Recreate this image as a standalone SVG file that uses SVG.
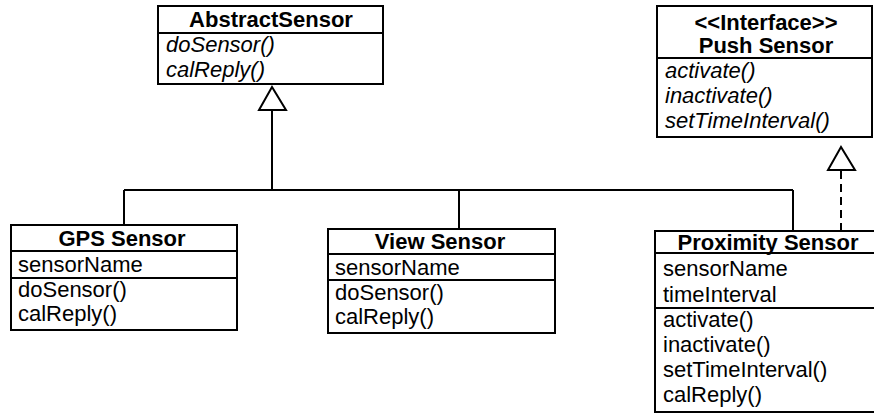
<svg xmlns="http://www.w3.org/2000/svg" width="874" height="414" viewBox="0 0 874 414">
<style>
.box{fill:#fff;stroke:#000;stroke-width:2}
.sep{stroke:#000;stroke-width:2}
.t{font-family:"Liberation Sans",Arial,Helvetica,sans-serif;font-size:22px;fill:#000}
.b{font-weight:bold;text-anchor:middle}
.i{font-style:italic}
.ln{fill:none;stroke:#000;stroke-width:2}
.tri{fill:#fff;stroke:#000;stroke-width:2;stroke-linejoin:miter}
.dash{stroke-dasharray:8 5}
</style>
<rect width="874" height="414" fill="#fff"/>
<g id="connectors">
  <path class="ln" d="M272 110 V190 M124 190 H793 M124 190 V225 M459 190 V229 M793 190 V231"/>
  <polygon class="tri" points="272,87 259,110 286,110"/>
  <path class="ln dash" d="M841 171 V231"/>
  <polygon class="tri" points="841,147 828,170 855,170"/>
</g>
<g id="AbstractSensor">
  <rect class="box" x="158" y="6" width="225" height="78"/>
  <line class="sep" x1="158" y1="33" x2="383" y2="33"/>
  <text class="t b" x="271" y="27">AbstractSensor</text>
  <text class="t i" x="166" y="52">doSensor()</text>
  <text class="t i" x="166" y="77">calReply()</text>
</g>
<g id="PushSensor">
  <rect class="box" x="657" y="6" width="215" height="131"/>
  <line class="sep" x1="657" y1="58" x2="872" y2="58"/>
  <text class="t b" x="766" y="30">&lt;&lt;Interface&gt;&gt;</text>
  <text class="t b" x="766" y="53">Push Sensor</text>
  <text class="t i" x="665" y="78">activate()</text>
  <text class="t i" x="665" y="103">inactivate()</text>
  <text class="t i" x="665" y="128">setTimeInterval()</text>
</g>
<g id="GPSSensor">
  <rect class="box" x="11" y="225" width="226" height="105"/>
  <line class="sep" x1="11" y1="251" x2="237" y2="251"/>
  <line class="sep" x1="11" y1="278" x2="237" y2="278"/>
  <text class="t b" x="122" y="246">GPS Sensor</text>
  <text class="t" x="18" y="272">sensorName</text>
  <text class="t" x="18" y="297">doSensor()</text>
  <text class="t" x="18" y="321">calReply()</text>
</g>
<g id="ViewSensor">
  <rect class="box" x="328" y="229" width="227" height="104"/>
  <line class="sep" x1="328" y1="254" x2="555" y2="254"/>
  <line class="sep" x1="328" y1="280" x2="555" y2="280"/>
  <text class="t b" x="440" y="249">View Sensor</text>
  <text class="t" x="335" y="275">sensorName</text>
  <text class="t" x="335" y="300">doSensor()</text>
  <text class="t" x="335" y="324">calReply()</text>
</g>
<g id="ProximitySensor">
  <rect class="box" x="655" y="231" width="226" height="181"/>
  <line class="sep" x1="655" y1="253" x2="881" y2="253"/>
  <line class="sep" x1="655" y1="308" x2="881" y2="308"/>
  <text class="t b" x="768" y="250">Proximity Sensor</text>
  <text class="t" x="663" y="276">sensorName</text>
  <text class="t" x="663" y="302">timeInterval</text>
  <text class="t" x="663" y="327">activate()</text>
  <text class="t" x="663" y="352">inactivate()</text>
  <text class="t" x="663" y="377">setTimeInterval()</text>
  <text class="t" x="663" y="402">calReply()</text>
</g>
</svg>
